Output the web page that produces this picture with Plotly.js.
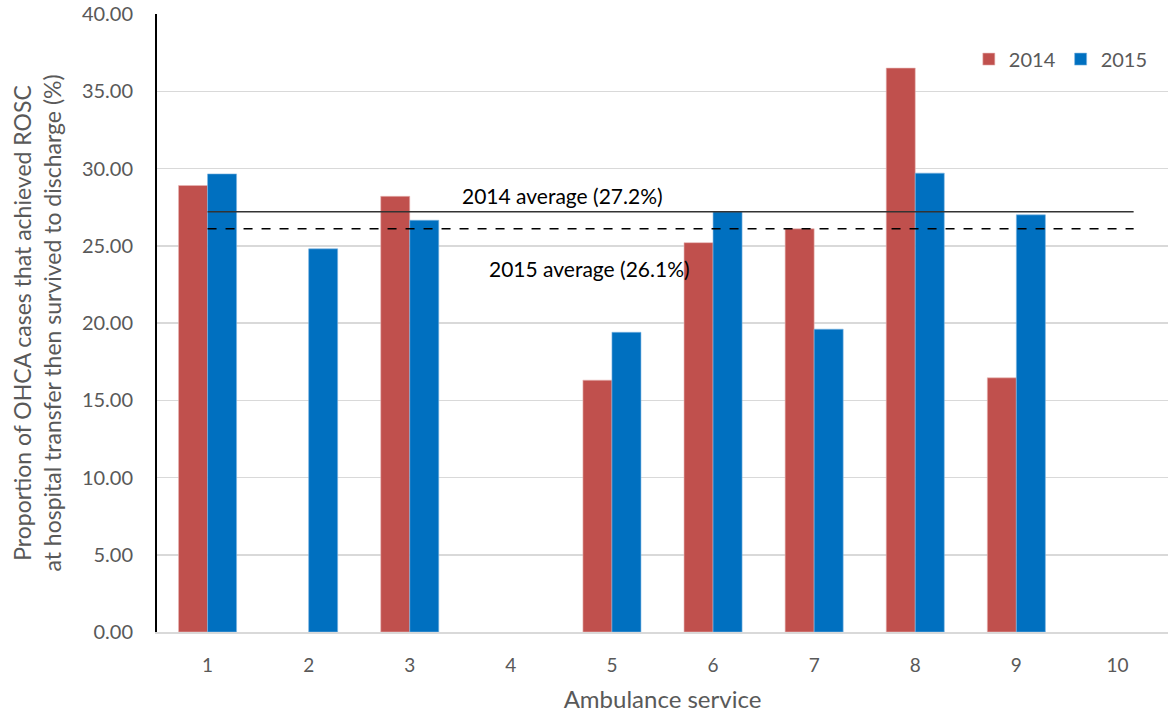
<!DOCTYPE html>
<html>
<head>
<meta charset="utf-8">
<script src="https://cdn.plot.ly/plotly-3.0.1.min.js"></script>
<style>html,body{margin:0;padding:0;background:#fff;}#chart{width:1169px;height:715px;}</style>
</head>
<body>
<div id="chart"></div>
<script>
// Ambulance services 1..10
const services = [1, 2, 3, 4, 5, 6, 7, 8, 9, 10];
// Proportion (%) of OHCA cases with ROSC at transfer who survived to discharge
const values2014 = [28.9, null, 28.2, null, 16.3, 25.2, 26.1, 36.5, 16.45, null];
const values2015 = [29.65, 24.8, 26.65, null, 19.4, 27.2, 19.6, 29.7, 27.0, null];
const avg2014 = 27.2;
const avg2015 = 26.1;
const yTicks = [0, 5, 10, 15, 20, 25, 30, 35, 40];

const font = "Lato, 'Open Sans', sans-serif";
const grey = '#595959';

const traces = [
  {type: 'bar', name: '2014', x: services, y: values2014,
   marker: {color: '#C0504D', line: {color: '#e8b7b5', width: 0.6}}},
  {type: 'bar', name: '2015', x: services, y: values2015,
   marker: {color: '#0070C0', line: {color: '#7fb6e0', width: 0.6}}}
];

const layout = {
  width: 1169, height: 715,
  margin: {l: 157, r: 1, t: 14, b: 83},
  paper_bgcolor: '#fff', plot_bgcolor: '#fff',
  barmode: 'group', bargap: 0.426, bargroupgap: 0,
  font: {family: font, color: grey, size: 18},
  xaxis: {
    range: [0.5, 10.5], tickvals: services, ticktext: services.map(String),
    showgrid: false, zeroline: false, showline: true, linecolor: '#d9d9d9', linewidth: 1.5,
    ticks: '', ticklen: 0, ticklabelstandoff: 16, tickfont: {size: 19, color: grey, family: font},
    title: {text: 'Ambulance service', font: {size: 24, color: grey, family: font}, standoff: 16}
  },
  yaxis: {
    range: [0, 40], tickvals: yTicks, ticktext: yTicks.map(v => v.toFixed(2)),
    showgrid: true, gridcolor: '#d9d9d9', gridwidth: 1.5, zeroline: false,
    showline: true, linecolor: '#000', linewidth: 2,
    ticks: '', ticklabelstandoff: 18, tickfont: {size: 20, color: grey, family: font},
    title: {text: 'Proportion of OHCA cases that achieved ROSC<br>at hospital transfer then survived to discharge (%)',
            font: {size: 23, color: grey, family: font}, standoff: 14}
  },
  legend: {
    orientation: 'h', x: 0.985, xanchor: 'right', y: 0.927, yanchor: 'middle',
    font: {size: 20, color: grey, family: font}, bgcolor: 'rgba(0,0,0,0)',
    itemwidth: 30, traceorder: 'normal'
  },
  shapes: [
    {type: 'line', xref: 'x', yref: 'y', x0: 1, x1: 10.16, y0: avg2014, y1: avg2014,
     line: {color: '#333', width: 1.5}},
    {type: 'line', xref: 'x', yref: 'y', x0: 1, x1: 10.16, y0: avg2015, y1: avg2015,
     line: {color: '#000', width: 1.3, dash: 'dash'}}
  ],
  annotations: [
    {xref: 'x', yref: 'y', x: 4.51, y: avg2014, yanchor: 'bottom', yshift: 2, showarrow: false,
     text: '2014 average (' + avg2014.toFixed(1) + '%)', font: {size: 21, color: '#000', family: font}},
    {xref: 'x', yref: 'y', x: 4.78, y: 23.5, yanchor: 'middle', showarrow: false,
     text: '2015 average (' + avg2015.toFixed(1) + '%)', font: {size: 21, color: '#000', family: font}}
  ]
};

Plotly.newPlot('chart', traces, layout, {displayModeBar: false, staticPlot: true});
</script>
</body>
</html>
